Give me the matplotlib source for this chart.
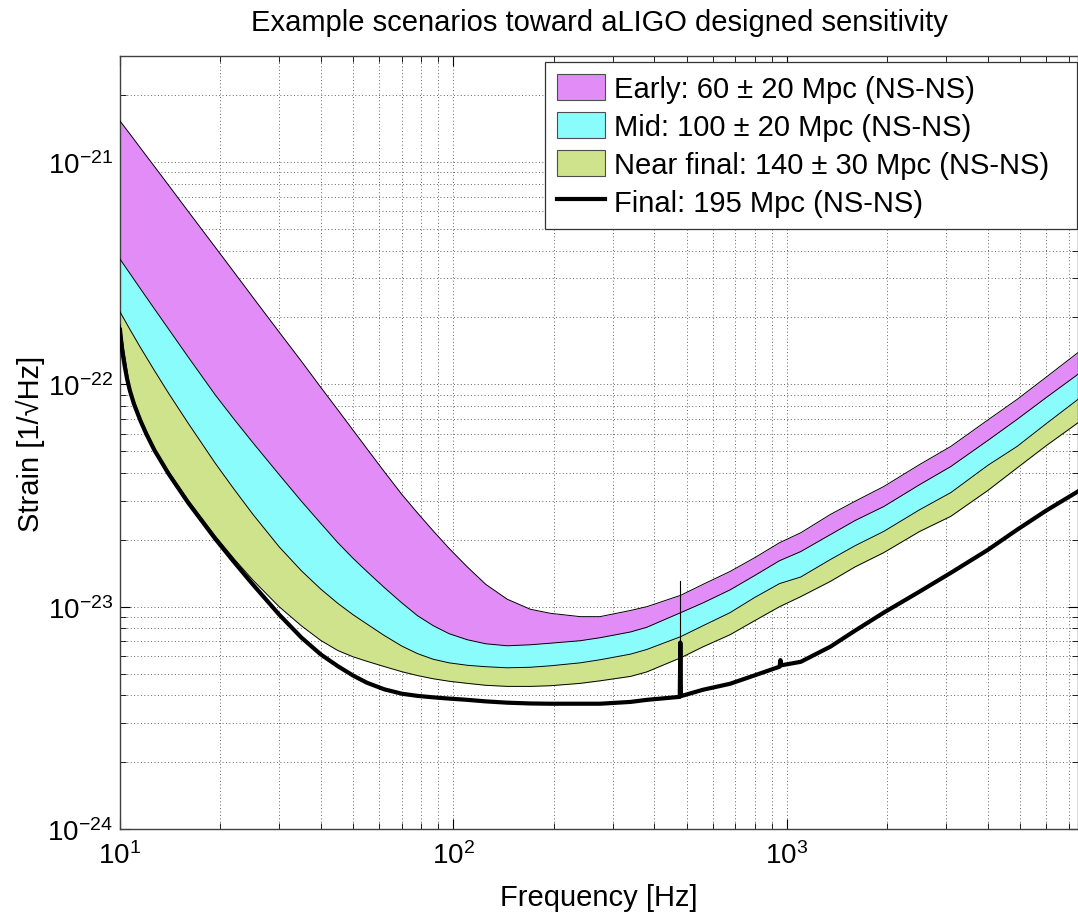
import matplotlib
matplotlib.use("Agg")
import matplotlib.pyplot as plt
from matplotlib.patches import Patch
from matplotlib.lines import Line2D
from matplotlib.ticker import FixedLocator, LogLocator, LogFormatterMathtext, NullFormatter

plt.rcParams['font.family'] = ['Liberation Sans', 'DejaVu Sans']
plt.rcParams['mathtext.fontset'] = 'custom'
plt.rcParams['mathtext.rm'] = 'Liberation Sans'
plt.rcParams['mathtext.it'] = 'Liberation Sans:italic'
plt.rcParams['axes.unicode_minus'] = False

# frequency grid shared by the band edges [Hz]
freq = [10, 10.7, 11.5, 12.7, 14, 16, 19.3, 22, 25, 30, 35, 40, 45, 50, 55,
        62, 70, 78, 87, 97, 110, 125, 145, 170, 195, 240, 275, 340, 380, 480,
        560, 675, 800, 950, 1100, 1350, 1600, 1950, 2500, 3100, 4000, 4900,
        6000, 7460]

# band edges, strain [1/sqrt(Hz)]
early_upper = [1.53e-21, 1.34e-21, 1.16e-21, 9.53e-22, 7.85e-22, 6.01e-22,
               4.14e-22, 3.19e-22, 2.47e-22, 1.72e-22, 1.27e-22, 9.70e-23,
               7.68e-23, 6.22e-23, 5.14e-23, 4.05e-23, 3.20e-23, 2.64e-23,
               2.19e-23, 1.83e-23, 1.51e-23, 1.26e-23, 1.08e-23, 9.74e-24,
               9.34e-24, 9.02e-24, 9.02e-24, 9.62e-24, 1.00e-23, 1.125e-23,
               1.26e-23, 1.44e-23, 1.66e-23, 1.94e-23, 2.15e-23, 2.60e-23,
               2.98e-23, 3.47e-23, 4.36e-23, 5.26e-23, 6.91e-23, 8.56e-23,
               1.08e-22, 1.39e-22]
early_lower = [3.66e-22, 3.16e-22, 2.70e-22, 2.18e-22, 1.77e-22, 1.33e-22,
               8.97e-23, 6.96e-23, 5.48e-23, 3.93e-23, 2.98e-23, 2.37e-23,
               1.94e-23, 1.65e-23, 1.44e-23, 1.22e-23, 1.04e-23, 9.11e-24,
               8.21e-24, 7.56e-24, 7.10e-24, 6.81e-24, 6.67e-24, 6.74e-24,
               6.85e-24, 7.03e-24, 7.25e-24, 7.70e-24, 8.08e-24, 9.40e-24,
               1.04e-23, 1.19e-23, 1.38e-23, 1.61e-23, 1.77e-23, 2.11e-23,
               2.44e-23, 2.82e-23, 3.54e-23, 4.27e-23, 5.59e-23, 6.96e-23,
               8.74e-23, 1.11e-22]
mid_lower = [2.12e-22, 1.77e-22, 1.47e-22, 1.15e-22, 9.10e-23, 6.70e-23,
             4.42e-23, 3.37e-23, 2.61e-23, 1.86e-23, 1.45e-23, 1.20e-23,
             1.035e-23, 9.20e-24, 8.36e-24, 7.42e-24, 6.65e-24, 6.15e-24,
             5.80e-24, 5.59e-24, 5.45e-24, 5.37e-24, 5.31e-24, 5.34e-24,
             5.42e-24, 5.59e-24, 5.77e-24, 6.12e-24, 6.42e-24, 7.33e-24,
             8.21e-24, 9.40e-24, 1.10e-23, 1.27e-23, 1.36e-23, 1.63e-23,
             1.88e-23, 2.18e-23, 2.73e-23, 3.26e-23, 4.32e-23, 5.26e-23,
             6.67e-23, 8.56e-23]
near_lower = [1.86e-22, 9.6e-23, 7.05e-23, 5.15e-23, 4.05e-23, 3.02e-23,
              2.08e-23, 1.64e-23, 1.32e-23, 1.00e-23, 8.20e-24, 7.05e-24,
              6.35e-24, 5.95e-24, 5.68e-24, 5.38e-24, 5.10e-24, 4.90e-24,
              4.74e-24, 4.62e-24, 4.52e-24, 4.43e-24, 4.38e-24, 4.38e-24,
              4.41e-24, 4.52e-24, 4.64e-24, 4.86e-24, 5.09e-24, 5.89e-24,
              6.60e-24, 7.48e-24, 8.65e-24, 1.00e-23, 1.11e-23, 1.30e-23,
              1.51e-23, 1.75e-23, 2.18e-23, 2.55e-23, 3.33e-23, 4.21e-23,
              5.31e-23, 6.72e-23]

# final design curve (with violin-mode lines)
final_freq = [10, 10.15, 10.35, 10.5, 10.7, 11, 11.5, 12, 12.7, 14, 16, 19.3,
              22, 25, 30, 35, 40, 45, 50, 55, 62, 70, 78, 87, 97, 110, 125,
              145, 170, 195, 240, 275, 340, 380, 477, 479, 481, 560, 675, 800,
              950, 956, 962, 1100, 1350, 1600, 1950, 2500, 3100, 4000, 4900,
              6000, 7460]
final_h = [1.76e-22, 1.42e-22, 1.19e-22, 1.06e-22, 9.4e-23, 8.2e-23, 6.9e-23,
           5.97e-23, 5.04e-23, 3.95e-23, 2.94e-23, 2.02e-23, 1.586e-23,
           1.261e-23, 9.22e-24, 7.26e-24, 6.1e-24, 5.4e-24, 4.9e-24, 4.55e-24,
           4.25e-24, 4.06e-24, 3.97e-24, 3.91e-24, 3.86e-24, 3.81e-24,
           3.75e-24, 3.70e-24, 3.67e-24, 3.66e-24, 3.66e-24, 3.66e-24,
           3.73e-24, 3.81e-24, 3.93e-24, 6.9e-24, 3.96e-24, 4.23e-24,
           4.50e-24, 4.91e-24, 5.37e-24, 5.75e-24, 5.45e-24, 5.65e-24,
           6.61e-24, 7.80e-24, 9.4e-24, 1.17e-23, 1.42e-23, 1.80e-23,
           2.22e-23, 2.71e-23, 3.30e-23]
spike_freq = 479
spike_top = 1.3e-23

labels = ['Early: 60 \u00b1 20 Mpc (NS-NS)',
          'Mid: 100 \u00b1 20 Mpc (NS-NS)',
          'Near final: 140 \u00b1 30 Mpc (NS-NS)',
          'Final: 195 Mpc (NS-NS)']
colors = ['#E28CF8', '#8AFCFC', '#CFE38C']
x_ticks = [10, 100, 1000]
y_ticks = [1e-24, 1e-23, 1e-22, 1e-21]

fig = plt.figure(figsize=(10.78, 9.2), dpi=100)
ax = fig.add_axes([120 / 1078, 90 / 920, 958 / 1078, 773 / 920])

ax.fill_between(freq, early_upper, early_lower, color=colors[0], lw=0, zorder=2)
ax.fill_between(freq, early_lower, mid_lower, color=colors[1], lw=0, zorder=2)
ax.fill_between(freq, mid_lower, near_lower, color=colors[2], lw=0, zorder=2)
for edge in (early_upper, early_lower, mid_lower, near_lower):
    ax.plot(freq, edge, color='k', lw=0.7, zorder=3)
ax.plot([spike_freq, spike_freq], [final_h[final_freq.index(spike_freq)], spike_top],
        color='k', lw=0.8, zorder=3)
ax.plot(final_freq, final_h, color='k', lw=3, zorder=4)

ax.set_xscale('log')
ax.set_yscale('log')
ax.set_xlim(10, 7460)
ax.set_ylim(1e-24, 3e-21)

ax.xaxis.set_major_locator(FixedLocator(x_ticks))
ax.yaxis.set_major_locator(FixedLocator(y_ticks))
for axis in (ax.xaxis, ax.yaxis):
    axis.set_minor_locator(LogLocator(base=10, subs=range(2, 10), numticks=20))
    axis.set_major_formatter(LogFormatterMathtext())
    axis.set_minor_formatter(NullFormatter())

ax.grid(which='both', color='0.4', ls=(0, (1, 2.5)), lw=0.7, zorder=1)
ax.set_axisbelow(True)
ax.tick_params(which='both', direction='in', top=True, right=True, labelsize=20)
ax.tick_params(axis='x', pad=9)
ax.tick_params(axis='y', pad=5)
ax.tick_params(which='major', length=7, width=0.8)
ax.tick_params(which='minor', length=4, width=0.6)
for s in ax.spines.values():
    s.set_color('0.25')
    s.set_linewidth(1)

ax.set_xlabel('Frequency [Hz]', fontsize=21, labelpad=10)
ax.set_ylabel('Strain [1/\u221aHz]', fontsize=21, labelpad=2)
ax.set_title('Example scenarios toward aLIGO designed sensitivity',
             fontsize=21, pad=19)

handles = [Patch(facecolor=c, edgecolor='0.3', lw=0.8) for c in colors]
handles.append(Line2D([0], [0], color='k', lw=3))
leg = ax.legend(handles, labels, loc='upper left', fontsize=21,
                bbox_to_anchor=(0.4436, 0.0, 0.5553, 0.9922), mode='expand',
                fancybox=False, framealpha=1, edgecolor='0.2',
                borderpad=0.42, labelspacing=0.3, handlelength=1.65,
                handleheight=1.0, handletextpad=0.3, borderaxespad=0)
leg.get_frame().set_linewidth(0.9)
leg.set_zorder(10)

fig.savefig('out.png', dpi=100)
